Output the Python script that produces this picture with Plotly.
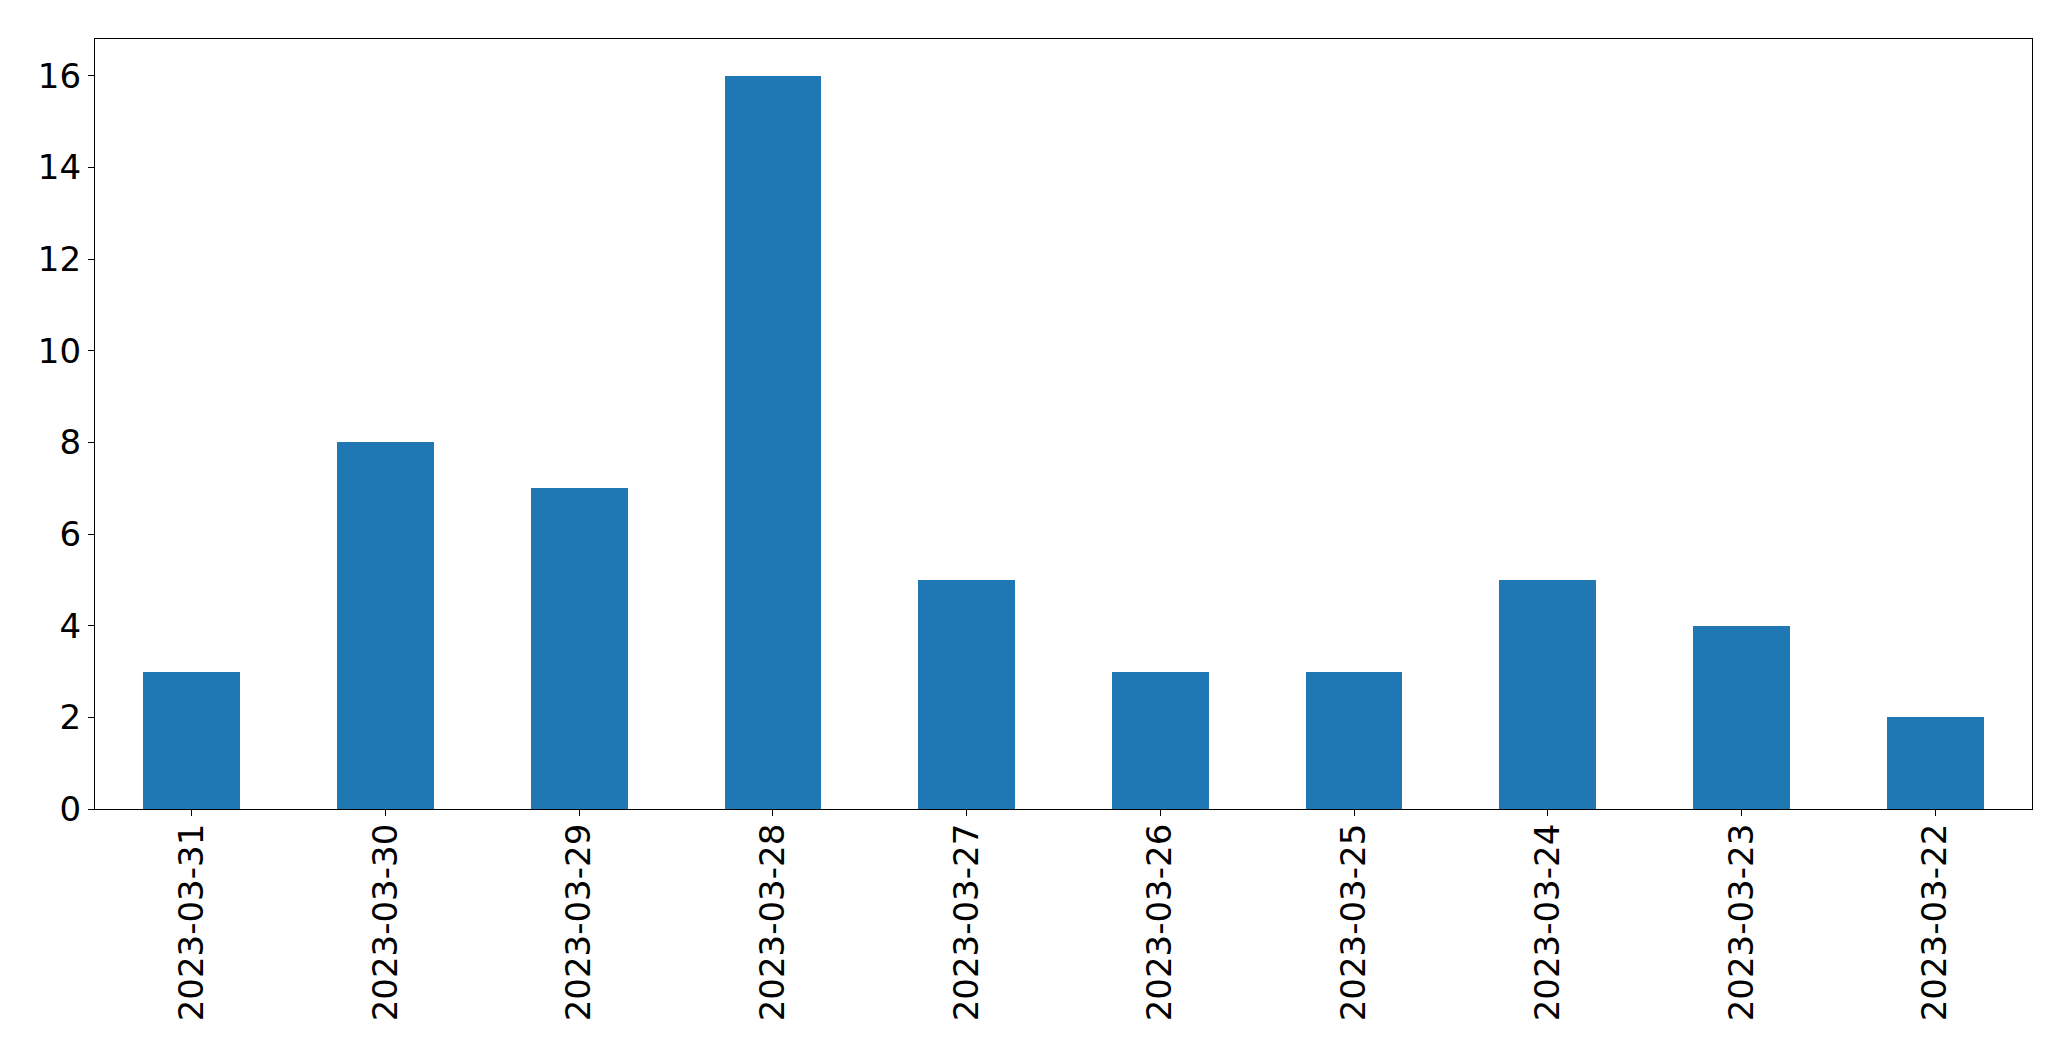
import plotly.graph_objects as go

dates = ["2023-03-31", "2023-03-30", "2023-03-29", "2023-03-28", "2023-03-27",
         "2023-03-26", "2023-03-25", "2023-03-24", "2023-03-23", "2023-03-22"]
counts = [3, 8, 7, 16, 5, 3, 3, 5, 4, 2]
y_ticks = [0, 2, 4, 6, 8, 10, 12, 14, 16]

fig = go.Figure(go.Bar(x=list(range(len(dates))), y=counts, width=0.5,
                       marker=dict(color="#1f77b4", line=dict(width=0))))

fig.update_layout(
    width=2071, height=1061,
    margin=dict(l=87, r=47, t=31, b=260, pad=0),
    plot_bgcolor="white", paper_bgcolor="white",
    font=dict(family="DejaVu Sans", size=34, color="black"),
    showlegend=False, bargap=0,
)
fig.update_xaxes(
    range=[-0.5, len(dates) - 0.5],
    tickmode="array", tickvals=list(range(len(dates))), ticktext=dates,
    tickangle=-90, ticks="outside", ticklen=6, tickwidth=1.3, tickcolor="black",
    ticklabelstandoff=-6,
    showline=True, linecolor="black", linewidth=1.3, mirror=True,
    showgrid=False, zeroline=False,
)
fig.update_yaxes(
    range=[0, 16.8],
    tickmode="array", tickvals=y_ticks,
    ticks="outside", ticklen=6, tickwidth=1.3, tickcolor="black",
    showline=True, linecolor="black", linewidth=1.3, mirror=True,
    showgrid=False, zeroline=False,
)

fig.write_html("out.html")
